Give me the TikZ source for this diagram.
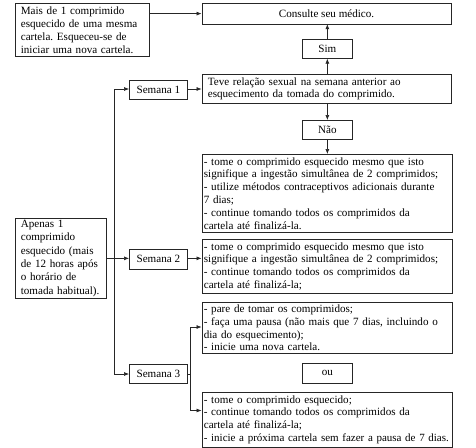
\documentclass[tikz,border=0pt]{standalone}
\usepackage{fontspec}
\setmainfont{Liberation Serif}
\usetikzlibrary{arrows.meta}
\begin{document}
\frenchspacing
\begin{tikzpicture}[x=1pt,y=-1pt,
  box/.style={draw=black!85, line width=0.7pt, anchor=north west, inner xsep=2pt, inner ysep=0pt,
    font=\fontsize{11.1}{12.8}\selectfont, align=left},
  cbox/.style={draw=black!85, line width=0.7pt, anchor=north west, inner sep=0pt,
    font=\fontsize{11.1}{12.8}\selectfont, align=center},
  conn/.style={line width=0.6pt, draw=black!85},
  arr/.style={conn, -{Latex[length=5pt,width=4pt]}}]
\useasboundingbox (0,0) rectangle (476,447);
\fill[white] (0,0) rectangle (476,447);

\node[box, inner xsep=5.5pt, minimum width=134pt, minimum height=53pt, text width=123pt, font=\fontsize{11.1}{13}\selectfont] (mais) at (15,3)
  {Mais de 1 comprimido\\esquecido de uma mesma\\cartela. Esqueceu-se de\\iniciar uma nova cartela.};
\node[cbox, minimum width=249.5pt, minimum height=20.5pt] (cons) at (201.5,3) {Consulte seu médico.};
\node[cbox, minimum width=50pt, minimum height=19pt] (sim) at (302,39) {Sim};
\node[box, inner xsep=6pt, minimum width=249.5pt, minimum height=29pt, text width=237.5pt] (teve) at (201.5,74)
  {Teve relação sexual na semana anterior ao\\esquecimento da tomada do comprimido.};
\node[cbox, minimum width=50pt, minimum height=19pt] (nao) at (302,120) {Não};
\node[box, minimum width=250pt, minimum height=78pt, text width=246pt] (r1) at (201.5,154)
  {- tome o comprimido esquecido mesmo que isto\\signifique a ingestão simultânea de 2 comprimidos;\\- utilize métodos contraceptivos adicionais durante\\7 dias;\\- continue tomando todos os comprimidos da\\cartela até finalizá-la.};
\node[box, minimum width=250pt, minimum height=54pt, text width=246pt] (r2) at (201.5,239)
  {- tome o comprimido esquecido mesmo que isto\\signifique a ingestão simultânea de 2 comprimidos;\\- continue tomando todos os comprimidos da\\cartela até finalizá-la;};
\node[box, minimum width=250pt, minimum height=51pt, text width=246pt] (r3a) at (201.5,302)
  {- pare de tomar os comprimidos;\\- faça uma pausa (não mais que 7 dias, incluindo o\\dia do esquecimento);\\- inicie uma nova cartela.};
\node[cbox, minimum width=50pt, minimum height=20pt] (ou) at (302,363) {ou};
\node[box, minimum width=250pt, minimum height=54.5pt, text width=246pt] (r3b) at (201.5,392)
  {- tome o comprimido esquecido;\\- continue tomando todos os comprimidos da\\cartela até finalizá-la;\\\resizebox{245pt}{!}{- inicie a próxima cartela sem fazer a pausa de 7 dias.}};
\node[cbox, minimum width=58pt, minimum height=19pt] (s1) at (129,80) {Semana 1};
\node[cbox, minimum width=58pt, minimum height=20pt] (s2) at (129,249) {Semana 2};
\node[cbox, minimum width=58pt, minimum height=19pt] (s3) at (129,364) {Semana 3};
\node[box, inner xsep=5.5pt, minimum width=91pt, minimum height=80pt, text width=80pt, font=\fontsize{11.1}{13.3}\selectfont] (ap) at (15,218)
  {Apenas 1\\comprimido\\esquecido (mais\\de 12 horas após\\o horário de\\tomada habitual).};

\coordinate (trunk1) at (114.3,89);
\coordinate (trunk3) at (114.3,374);
\coordinate (br) at (190,374);
\coordinate (bru) at (190,327);
\coordinate (brd) at (190,410.5);

\draw[arr] (mais.east |- cons.west) -- (cons.west);
\draw[arr] (teve.north -| sim.south) -- (sim.south);
\draw[arr] (sim.north) -- (cons.south -| sim.north);
\draw[arr] (teve.south -| nao.north) -- (nao.north);
\draw[arr] (nao.south) -- (r1.north -| nao.south);
\draw[conn] (ap.east) -- (ap.east -| trunk1);
\draw[conn] (trunk1) -- (trunk3);
\draw[arr] (trunk1) -- (trunk1 -| s1.west);
\draw[arr] (ap.east -| trunk1) -- (s2.west |- ap.east);
\draw[arr] (trunk3) -- (trunk3 -| s3.west);
\draw[arr] (s1.east |- trunk1) -- (teve.west |- trunk1);
\draw[arr] (s2.east |- ap.east) -- (r2.west |- ap.east);
\draw[conn] (s3.east |- br) -- (br);
\draw[conn] (bru) -- (brd);
\draw[arr] (bru) -- (r3a.west |- bru);
\draw[arr] (brd) -- (r3b.west |- brd);
\end{tikzpicture}
\end{document}
